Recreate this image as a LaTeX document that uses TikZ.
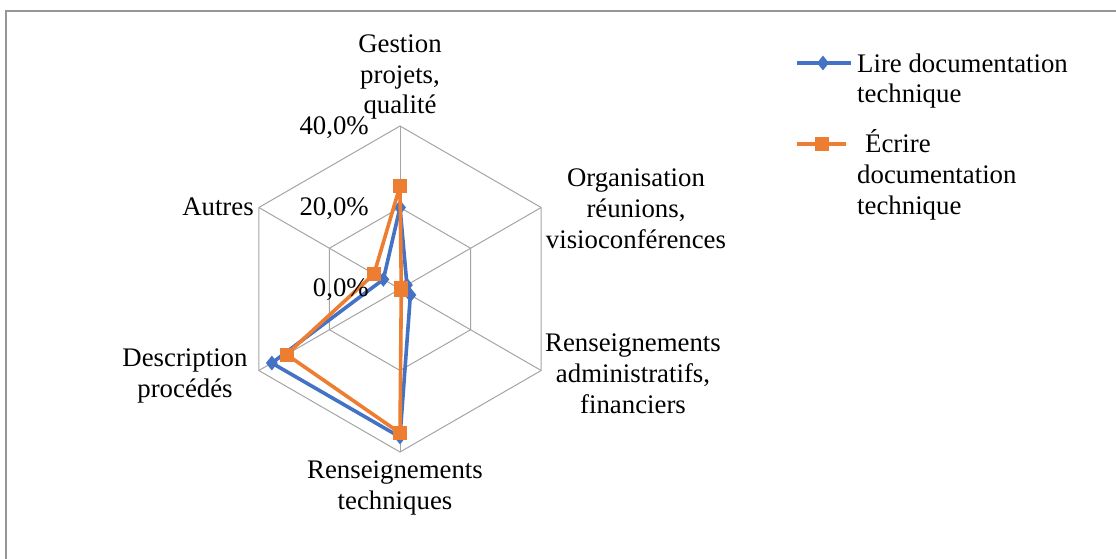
\documentclass[tikz,border=0pt]{standalone}
\usepackage{fontspec}
\setmainfont{Liberation Serif}
\usetikzlibrary{shapes.geometric}
\definecolor{serA}{RGB}{68,114,196}
\definecolor{serB}{RGB}{237,125,49}
\definecolor{gridc}{RGB}{165,165,165}
\definecolor{framec}{RGB}{150,150,150}
\begin{document}
\begin{tikzpicture}[x=1pt,y=-1pt,
  font=\fontsize{26.8}{30.8}\selectfont,
  lbl/.style={inner sep=0pt, align=center},
  axlbl/.style={inner sep=0pt, anchor=east},
  leglbl/.style={inner sep=0pt, align=left, anchor=west},
  gridline/.style={draw=gridc, line width=1pt},
  serline/.style={line width=3.6pt, line join=round},
  bmark/.style={diamond, fill=serA, inner sep=0pt, minimum width=12pt, minimum height=15pt},
  omark/.style={rectangle, fill=serB, inner sep=0pt, minimum size=14pt}]
\useasboundingbox (0,0) rectangle (1116,558);
\fill[white] (0,0) rectangle (1116,558);
\coordinate (fbl) at (6,560);
\coordinate (ftl) at (6,11);
\coordinate (ftr) at (1118,11);
\draw[framec, line width=1.5pt] (fbl) -- (ftl) -- (ftr);
\coordinate (C) at (400,289);
\begin{scope}[shift={(C)}, y=1pt]
  \foreach \a in {90,30,-30,-90,-150,150} \draw[gridline] (0,0) -- (\a:163);
  \draw[gridline] (90:81.5) -- (30:81.5) -- (-30:81.5) -- (-90:81.5) -- (-150:81.5) -- (150:81.5) -- cycle;
  \draw[gridline] (90:163) -- (30:163) -- (-30:163) -- (-90:163) -- (-150:163) -- (150:163) -- cycle;
  \coordinate (b1) at (90:81.5);
  \coordinate (b2) at (30:8);
  \coordinate (b3) at (-30:12);
  \coordinate (b4) at (-90:148);
  \coordinate (b5) at (-150:148);
  \coordinate (b6) at (150:19.2);
  \coordinate (o1) at (90:103);
  \coordinate (o2) at (30:1.5);
  \coordinate (o3) at (-30:1.5);
  \coordinate (o4) at (-90:144);
  \coordinate (o5) at (-150:131);
  \coordinate (o6) at (150:30);
\end{scope}
\draw[serline, serA] (b1) -- (b2) -- (b3) -- (b4) -- (b5) -- (b6) -- cycle;
\foreach \p in {b1,b2,b3,b4,b5,b6} \node[bmark] (m\p) at (\p) {};
\draw[serline, serB] (o1) -- (o2) -- (o3) -- (o4) -- (o5) -- (o6) -- cycle;
\foreach \p in {o1,o2,o3,o4,o5,o6} \node[omark] (m\p) at (\p) {};
% axis value labels
\node[axlbl] (v40) at (369,128) {40,0\%};
\node[axlbl] (v20) at (369,209) {20,0\%};
\node[axlbl] (v0) at (369,290) {0,0\%};
% category labels
\node[lbl] (cGest) at (400,77) {Gestion\\projets,\\qualité};
\node[lbl] (cOrg) at (636,209) {Organisation\\réunions,\\visioconférences};
\node[lbl] (cAdm) at (633,374) {Renseignements\\administratifs,\\financiers};
\node[lbl] (cTech) at (395,488) {Renseignements\\techniques};
\node[lbl] (cDesc) at (185,376) {Description\\procédés};
\node[lbl] (cAut) at (218,207) {Autres};
% legend
\coordinate (lA1) at (797,63);
\coordinate (lA2) at (851,63);
\draw[serline, serA] (lA1) -- (lA2);
\node[bmark] (lAm) at (823,63) {};
\node[leglbl] (lAt) at (857,81) {Lire documentation\\technique};
\coordinate (lB1) at (797,144);
\coordinate (lB2) at (846,144);
\draw[serline, serB] (lB1) -- (lB2);
\node[omark] (lBm) at (822,144) {};
\node[leglbl] (lBt) at (857,175) {\hspace{8pt}Écrire\\documentation\\technique};
\end{tikzpicture}
\end{document}
